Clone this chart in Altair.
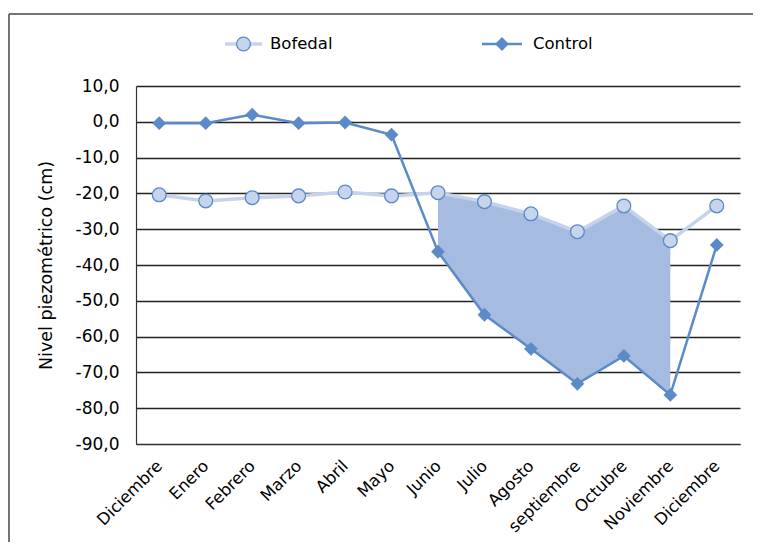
import altair as alt
import pandas as pd

meses = ["Diciembre", "Enero", "Febrero", "Marzo", "Abril", "Mayo", "Junio",
         "Julio", "Agosto", "septiembre", "Octubre", "Noviembre", "Diciembre"]
bofedal = [-20.4, -22.1, -21.2, -20.7, -19.6, -20.7, -19.8, -22.3, -25.7, -30.7, -23.5, -33.2, -23.5]
control = [-0.4, -0.4, 2.0, -0.4, -0.2, -3.6, -36.3, -53.9, -63.4, -73.2, -65.4, -76.3, -34.4]
y_ticks = [10, 0, -10, -20, -30, -40, -50, -60, -70, -80, -90]
area_desde, area_hasta = 6, 11

FONT = "DejaVu Sans"
C_CTRL = "#5A8AC8"
C_BOF_LINE = "#C5D3EC"
C_BOF_FILL = "#C6D4EC"
C_AREA = "#A6BBE0"

df = pd.DataFrame({"i": list(range(len(meses))), "mes": meses,
                   "Bofedal": bofedal, "Control": control})
df_area = df[(df.i >= area_desde) & (df.i <= area_hasta)]

label_arr = "[" + ",".join("'%s'" % m for m in meses) + "]"

x_scale = alt.Scale(domain=[-0.5, 12.5], nice=False, zero=False)
x_axis = alt.Axis(values=list(range(13)), labelExpr=label_arr + "[datum.value]",
                  labelAngle=-45, labelAlign="right", labelBaseline="middle",
                  labelPadding=19, ticks=False, grid=False, title=None,
                  labelOverlap=False, labelBound=False, labelFlush=False,
                  labelFont=FONT, labelFontSize=16.5, labelColor="#000",
                  domainColor="#333", domainWidth=1.2)
y_scale = alt.Scale(domain=[-90, 10], nice=False, zero=False)
y_axis = alt.Axis(values=y_ticks, tickCount=11,
                  labelExpr="replace((datum.value < 0 ? '-' : '') + format(abs(datum.value), '.1f'), '.', ',')",
                  labelOverlap=False, labelBound=False, labelFlush=False,
                  title="Nivel piezométrico (cm)", titleFont=FONT, titleFontSize=17.5,
                  titleFontWeight="normal", titleColor="#000", titlePadding=20,
                  labelFont=FONT, labelFontSize=17, labelColor="#000", labelPadding=17,
                  ticks=False, grid=True, gridColor="#222", gridWidth=1.3,
                  domainColor="#333", domainWidth=1.2)


def X():
    return alt.X("i:Q", scale=x_scale, axis=x_axis)


def Y(field):
    return alt.Y(field + ":Q", scale=y_scale, axis=y_axis)


base = alt.Chart(df)

area = alt.Chart(df_area).mark_area(color=C_AREA, opacity=1).encode(
    x=X(), y=Y("Bofedal"), y2="Control:Q")

bof_line = base.mark_line(color=C_BOF_LINE, strokeWidth=3.5).encode(x=X(), y=Y("Bofedal"))
ctrl_line = base.mark_line(color=C_CTRL, strokeWidth=2.5).encode(x=X(), y=Y("Control"))
bof_pts = base.mark_point(shape="circle", size=190, filled=True, fill=C_BOF_FILL,
                          stroke=C_CTRL, strokeWidth=1.3, opacity=1).encode(
    x=X(), y=Y("Bofedal"))
ctrl_pts = base.mark_point(shape="diamond", size=190, filled=True, color=C_CTRL,
                           opacity=1).encode(x=X(), y=Y("Control"))

# legend (manual)
one = alt.Chart(pd.DataFrame({"k": [0]}))
leg_y = -42
leg = [
    one.mark_rule(color=C_BOF_LINE, strokeWidth=3.5).encode(
        x=alt.value(89), x2=alt.value(126), y=alt.value(leg_y)),
    one.mark_point(shape="circle", size=190, filled=True, fill=C_BOF_FILL,
                   stroke=C_CTRL, strokeWidth=1.3, opacity=1).encode(
        x=alt.value(107.5), y=alt.value(leg_y)),
    one.mark_text(text="Bofedal", align="left", baseline="middle", font=FONT,
                  fontSize=16.5, color="#000").encode(x=alt.value(134), y=alt.value(leg_y)),
    one.mark_rule(color=C_CTRL, strokeWidth=2.5).encode(
        x=alt.value(346), x2=alt.value(386), y=alt.value(leg_y)),
    one.mark_point(shape="diamond", size=190, filled=True, color=C_CTRL, opacity=1).encode(
        x=alt.value(366), y=alt.value(leg_y)),
    one.mark_text(text="Control", align="left", baseline="middle", font=FONT,
                  fontSize=16.5, color="#000").encode(x=alt.value(397), y=alt.value(leg_y)),
]

# outer chart frame (top and left edges; the rest lies outside the picture)
frame_top = one.mark_rule(color="#444", strokeWidth=1.5).encode(
    x=alt.value(-127), x2=alt.value(900), y=alt.value(-72))
frame_left = one.mark_rule(color="#444", strokeWidth=1.5).encode(
    x=alt.value(-127), y=alt.value(-72), y2=alt.value(900))

chart = alt.layer(area, bof_line, ctrl_line, bof_pts, ctrl_pts, *leg,
                  frame_top, frame_left).properties(
    width=604, height=358,
    autosize=alt.AutoSizeParams(type="none"),
    padding={"left": 128, "top": 78, "right": 13, "bottom": 98},
    background="white",
).configure_view(stroke=None)

chart.save("out.html", embed_options={"renderer": "svg", "actions": False})
